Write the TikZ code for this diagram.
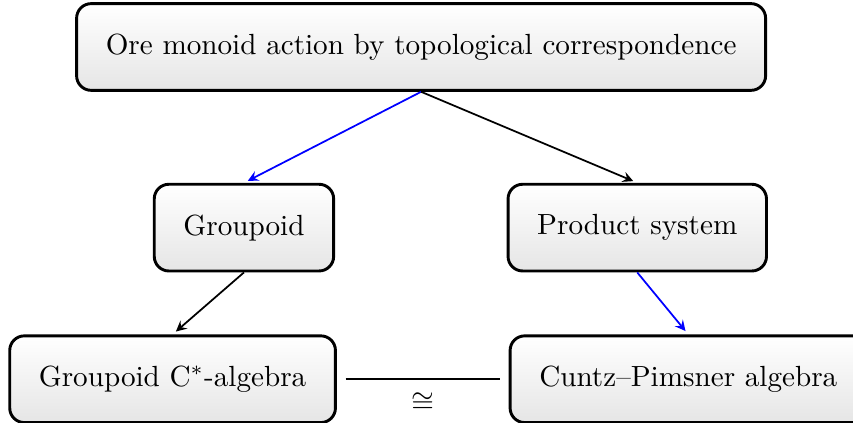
\documentclass[tikz,border=0pt]{standalone}
\usepackage{amsmath,amssymb}
\usepackage{tikz}
\usetikzlibrary{arrows}
\tikzset{box/.style={draw, line width=1pt, rounded corners=5pt, top color=white, bottom color=gray!20, inner sep=10pt, minimum height=1.045cm}}
\tikzset{link/.style={-stealth, semithick, shorten >=1.5pt}}
\begin{document}
\begin{tikzpicture}
        \useasboundingbox (0,0) rectangle (10.28,-5.095);
        % top
        \node[box] (ore) at (5.075,-0.566) {Ore monoid action by topological correspondence};
        % middle row
        \node[box] (gpd) at (2.94,-2.743) {Groupoid};
        \node[box] (prod) at (7.68,-2.743) {Product system};
        % bottom row
        \node[box] (gca) at (2.08,-4.57) {Groupoid C$^*$-algebra};
        \node[box, anchor=west] (cp) at (6.13,-4.57) {Cuntz--Pimsner algebra};
        % arrows
        \draw[link, blue] (ore.south) -- (gpd.north);
        \draw[link] (ore.south) -- (prod.north);
        \draw[link] (gpd.south) -- (gca.north);
        \draw[link, blue] (prod.south) -- (cp.north);
        \draw[thick, shorten <=3pt, shorten >=3pt] (gca.east) -- node[below, yshift=-1pt] {$\cong$} (cp.west);
\end{tikzpicture}
\end{document}
